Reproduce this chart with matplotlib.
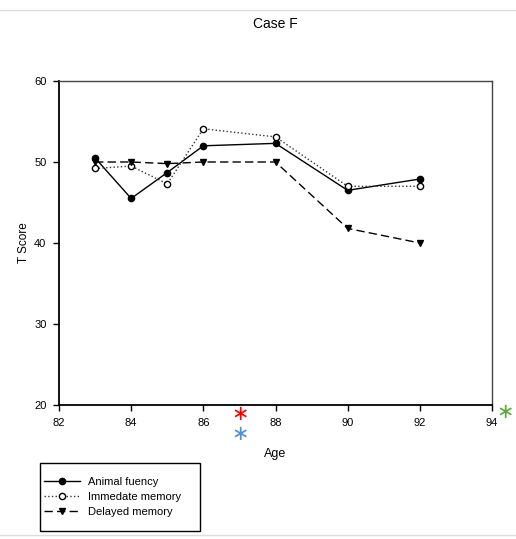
import matplotlib
matplotlib.use('Agg')
import matplotlib.pyplot as plt
from matplotlib.lines import Line2D
from matplotlib.patches import Rectangle

plt.rcParams['font.family'] = ['Liberation Sans', 'DejaVu Sans']

# 数据
ages = [83, 84, 85, 86, 88, 90, 92]
animal_fluency = [50.5, 45.5, 48.7, 52.0, 52.3, 46.5, 47.9]
immediate_memory = [49.2, 49.5, 47.3, 54.1, 53.1, 47.0, 47.0]
delayed_memory = [50.0, 50.0, 49.8, 50.0, 50.0, 41.8, 40.0]

x_ticks = [82, 84, 86, 88, 90, 92, 94]
y_ticks = [20, 30, 40, 50, 60]

W, H = 516, 539
fig = plt.figure(figsize=(W / 100, H / 100), dpi=100)
ax = fig.add_axes([59 / W, 1 - 405 / H, (492 - 59) / W, (405 - 81) / H])

ax.plot(ages, animal_fluency, color='black', linestyle='-', linewidth=1.0,
        marker='o', markersize=4.5, markerfacecolor='black', label='Animal fuency')
ax.plot(ages, immediate_memory, color='#333333', linestyle=':', linewidth=1.0,
        marker='o', markersize=4.5, markerfacecolor='white', markeredgecolor='black',
        label='Immedate memory')
ax.plot(ages, delayed_memory, color='black', linestyle=(0, (6, 3)), linewidth=1.0,
        marker='v', markersize=5, markerfacecolor='black', label='Delayed memory')

ax.set_xlim(82, 94)
ax.set_ylim(20, 60)
ax.set_xticks(x_ticks)
ax.set_yticks(y_ticks)
ax.tick_params(direction='out', length=4, width=1, labelsize=8, pad=5)
for side in ['left', 'bottom']:
    ax.spines[side].set_linewidth(1.3)
for side in ['top', 'right']:
    ax.spines[side].set_linewidth(1.0)
    ax.spines[side].set_color('#444444')

ax.set_xlabel('Age', fontsize=9, labelpad=15)
ax.set_ylabel('T Score', fontsize=8.5, labelpad=3)
ax.set_title('Case F', fontsize=10, pad=38)

# 星号标记
fig.text(240 / W, 1 - 415 / H, '\u2217', color='red', fontsize=15, ha='center', va='center')
fig.text(240 / W, 1 - 434 / H, '\u2217', color='#4a90d9', fontsize=15, ha='center', va='center')
fig.text(505 / W, 1 - 413 / H, '\u2217', color='#5aaa3a', fontsize=15, ha='center', va='center')

# 图例（手动画框）
fig.add_artist(Rectangle((40 / W, 1 - 531 / H), 160 / W, 68 / H, transform=fig.transFigure,
                         facecolor='white', edgecolor='black', linewidth=1.0))
fig.legend(loc='center left', bbox_to_anchor=(44 / W, 1 - 497 / H),
           fontsize=8, frameon=False, handlelength=3.2, borderaxespad=0,
           borderpad=0, labelspacing=0.45, handletextpad=0.8)

# 边界浅灰线
fig.add_artist(Line2D([0, 1], [1 - 10 / H, 1 - 10 / H], color='#dddddd', linewidth=1))
fig.add_artist(Line2D([0, 1], [1 - 535 / H, 1 - 535 / H], color='#dddddd', linewidth=1))

fig.savefig('out.png', dpi=100)
